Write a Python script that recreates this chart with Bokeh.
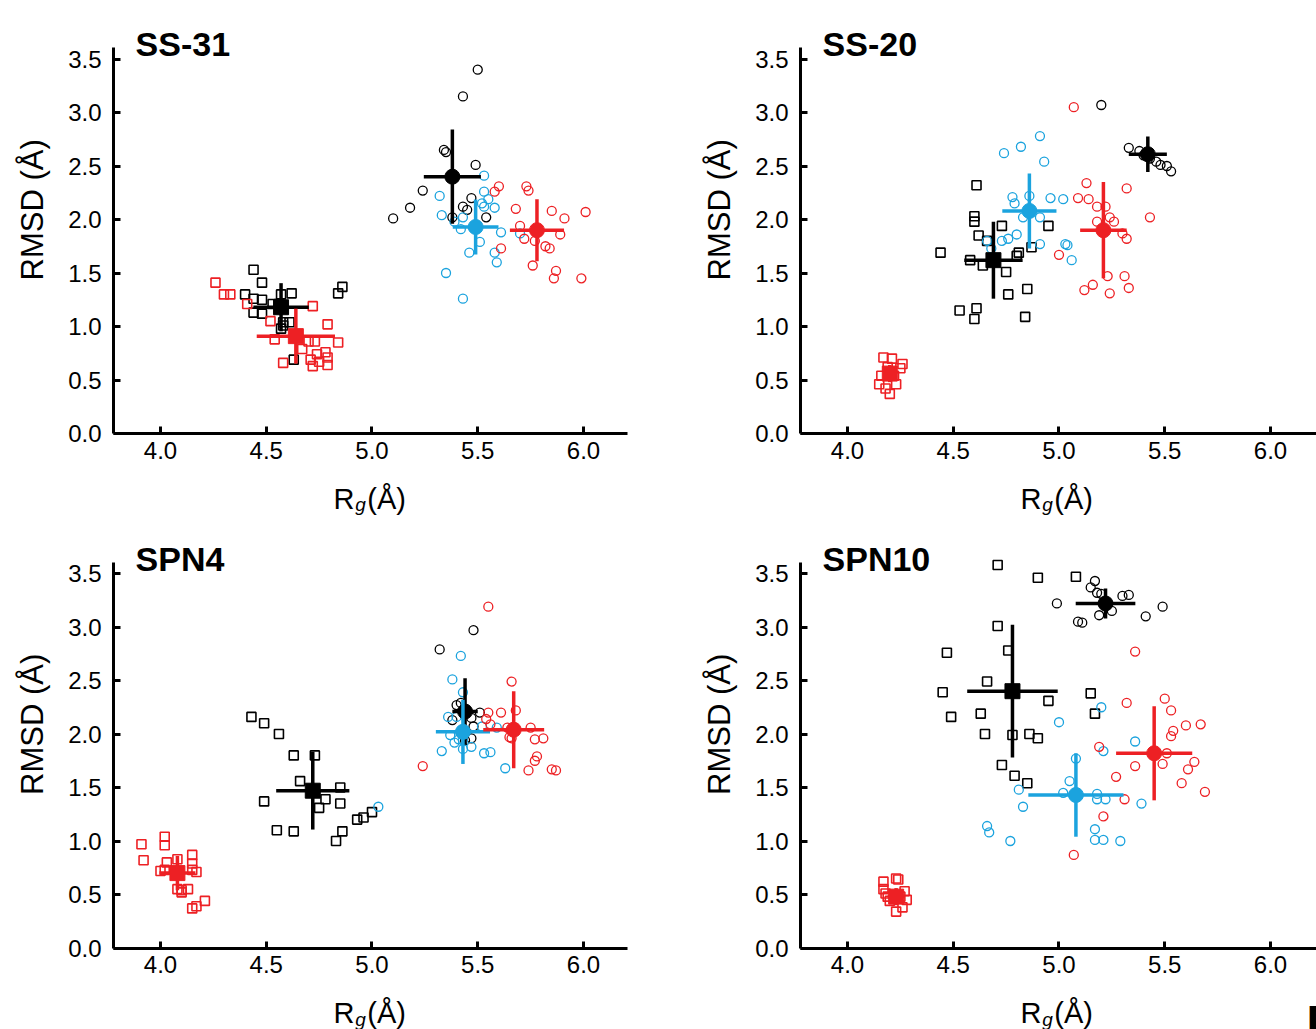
import math
from bokeh.plotting import figure
from bokeh.models import FixedTicker, PrintfTickFormatter, Label
from bokeh.layouts import column, row
from bokeh.embed import file_html
from bokeh.resources import INLINE

BLACK = "#000000"
RED = "#ed2024"
BLUE = "#1ba3de"

X_TICKS = [4.0, 4.5, 5.0, 5.5, 6.0]
Y_TICKS = [0.0, 0.5, 1.0, 1.5, 2.0, 2.5, 3.0, 3.5]
Y_LABEL = "RMSD (Å)"
TITLES = ["SS-31", "SS-20", "SPN4", "SPN10"]

# ---------------- SS-31 ----------------
SS31_BLACK_CIRC_X = [5.50, 5.43, 5.34, 5.35, 5.49, 5.24, 5.18, 5.10, 5.47, 5.43, 5.45, 5.38, 5.54]
SS31_BLACK_CIRC_Y = [3.40, 3.15, 2.65, 2.63, 2.51, 2.27, 2.11, 2.01, 2.20, 2.12, 2.09, 2.02, 2.02]
SS31_BLUE_CIRC_X = [5.53, 5.53, 5.32, 5.52, 5.55, 5.53, 5.58, 5.33, 5.43, 5.39, 5.42, 5.61, 5.51, 5.46, 5.58, 5.59, 5.35, 5.43, 5.70]
SS31_BLUE_CIRC_Y = [2.41, 2.26, 2.22, 2.15, 2.19, 2.12, 2.11, 2.04, 2.02, 1.98, 1.91, 1.88, 1.79, 1.69, 1.69, 1.60, 1.50, 1.26, 1.87]
SS31_RED_CIRC_X = [5.60, 5.58, 5.73, 5.74, 5.68, 5.85, 6.01, 5.91, 5.70, 5.72, 5.77, 5.89, 5.82, 5.84, 5.61, 5.76, 5.87, 5.86, 5.99]
SS31_RED_CIRC_Y = [2.31, 2.26, 2.31, 2.27, 2.10, 2.08, 2.07, 2.01, 1.94, 1.82, 1.80, 1.86, 1.75, 1.73, 1.73, 1.57, 1.52, 1.45, 1.45]
SS31_BLACK_SQ_X = [4.44, 4.48, 4.40, 4.44, 4.48, 4.57, 4.62, 4.44, 4.48, 4.53, 4.58, 4.61, 4.57, 4.58, 4.84, 4.86, 4.63, 4.56]
SS31_BLACK_SQ_Y = [1.53, 1.41, 1.30, 1.26, 1.25, 1.30, 1.31, 1.13, 1.12, 1.21, 1.04, 1.04, 0.98, 1.01, 1.31, 1.37, 0.69, 1.21]
SS31_RED_SQ_X = [4.26, 4.30, 4.33, 4.41, 4.52, 4.72, 4.79, 4.54, 4.70, 4.73, 4.84, 4.67, 4.74, 4.78, 4.71, 4.79, 4.75, 4.72, 4.79, 4.58]
SS31_RED_SQ_Y = [1.41, 1.30, 1.30, 1.21, 1.05, 1.19, 1.02, 0.88, 0.86, 0.86, 0.85, 0.79, 0.74, 0.76, 0.69, 0.71, 0.67, 0.63, 0.64, 0.66]
# mean: x, y, x error, y error
SS31_BLACK_SQ_MEAN = [4.57, 1.18, 0.131, 0.225]
SS31_RED_SQ_MEAN = [4.64, 0.91, 0.185, 0.257]
SS31_BLACK_CIRC_MEAN = [5.38, 2.40, 0.135, 0.44]
SS31_BLUE_CIRC_MEAN = [5.49, 1.93, 0.108, 0.257]
SS31_RED_CIRC_MEAN = [5.78, 1.90, 0.128, 0.29]

# ---------------- SS-20 ----------------
SS20_BLACK_CIRC_X = [5.20, 5.33, 5.38, 5.43, 5.46, 5.48, 5.51, 5.53, 5.40]
SS20_BLACK_CIRC_Y = [3.07, 2.67, 2.64, 2.57, 2.54, 2.51, 2.50, 2.45, 2.60]
SS20_BLUE_CIRC_X = [4.74, 4.82, 4.91, 4.93, 4.78, 4.79, 4.86, 4.96, 5.02, 4.83, 4.91, 4.80, 4.76, 4.73, 4.66, 4.68, 4.91, 5.03, 5.04, 5.06]
SS20_BLUE_CIRC_Y = [2.62, 2.68, 2.78, 2.54, 2.21, 2.15, 2.22, 2.20, 2.19, 2.02, 2.02, 1.86, 1.82, 1.80, 1.80, 1.73, 1.77, 1.77, 1.76, 1.62]
SS20_RED_CIRC_X = [5.07, 5.13, 5.32, 5.09, 5.14, 5.18, 5.22, 5.24, 5.26, 5.18, 5.43, 5.30, 5.32, 5.00, 5.23, 5.31, 5.16, 5.12, 5.24, 5.33]
SS20_RED_CIRC_Y = [3.05, 2.34, 2.29, 2.20, 2.19, 2.12, 2.12, 2.02, 1.98, 1.98, 2.02, 1.87, 1.82, 1.67, 1.47, 1.47, 1.39, 1.34, 1.31, 1.36]
SS20_BLACK_SQ_X = [4.61, 4.60, 4.60, 4.73, 4.95, 4.62, 4.66, 4.44, 4.58, 4.64, 4.81, 4.80, 4.87, 4.75, 4.76, 4.85, 4.53, 4.61, 4.60, 4.84]
SS20_BLACK_SQ_Y = [2.32, 2.03, 1.98, 1.94, 1.94, 1.85, 1.80, 1.69, 1.62, 1.57, 1.69, 1.66, 1.74, 1.51, 1.30, 1.35, 1.15, 1.17, 1.07, 1.09]
SS20_RED_SQ_X = [4.17, 4.21, 4.26, 4.25, 4.15, 4.18, 4.20, 4.23, 4.16, 4.22, 4.19]
SS20_RED_SQ_Y = [0.71, 0.70, 0.65, 0.61, 0.46, 0.42, 0.37, 0.46, 0.54, 0.54, 0.62]
SS20_BLACK_SQ_MEAN = [4.69, 1.62, 0.138, 0.36]
SS20_RED_SQ_MEAN = [4.20, 0.56, 0.03, 0.08]
SS20_BLACK_CIRC_MEAN = [5.42, 2.61, 0.09, 0.165]
SS20_BLUE_CIRC_MEAN = [4.86, 2.08, 0.128, 0.35]
SS20_RED_CIRC_MEAN = [5.21, 1.90, 0.11, 0.45]

# ---------------- SPN4 ----------------
SPN4_BLACK_CIRC_X = [5.48, 5.32, 5.42, 5.51, 5.38, 5.47, 5.48, 5.47, 5.44, 5.40]
SPN4_BLACK_CIRC_Y = [2.97, 2.79, 2.29, 2.20, 2.13, 2.15, 2.07, 1.96, 1.94, 2.27]
SPN4_BLUE_CIRC_X = [5.03, 5.42, 5.38, 5.43, 5.36, 5.40, 5.52, 5.59, 5.37, 5.39, 5.41, 5.43, 5.47, 5.33, 5.53, 5.56, 5.63, 5.43]
SPN4_BLUE_CIRC_Y = [1.32, 2.73, 2.51, 2.39, 2.16, 2.16, 2.07, 2.06, 1.99, 1.92, 1.95, 1.86, 1.88, 1.84, 1.82, 1.83, 1.68, 1.94]
SPN4_RED_CIRC_X = [5.55, 5.66, 5.68, 5.55, 5.54, 5.61, 5.56, 5.64, 5.65, 5.66, 5.75, 5.77, 5.81, 5.78, 5.77, 5.74, 5.85, 5.87, 5.24]
SPN4_RED_CIRC_Y = [3.19, 2.49, 2.22, 2.20, 2.14, 2.20, 2.09, 2.06, 1.97, 1.96, 2.06, 1.95, 1.96, 1.79, 1.75, 1.66, 1.67, 1.66, 1.70]
SPN4_BLACK_SQ_X = [4.43, 4.49, 4.56, 4.63, 4.73, 4.66, 4.85, 4.78, 4.75, 4.85, 4.49, 4.55, 4.63, 4.86, 4.83, 4.93, 4.96, 5.00]
SPN4_BLACK_SQ_Y = [2.16, 2.10, 2.00, 1.80, 1.80, 1.56, 1.50, 1.39, 1.31, 1.35, 1.37, 1.10, 1.09, 1.09, 1.00, 1.20, 1.22, 1.27]
SPN4_RED_SQ_X = [3.91, 3.92, 4.02, 4.02, 4.03, 4.00, 4.02, 4.08, 4.15, 4.15, 4.15, 4.17, 4.08, 4.10, 4.13, 4.10, 4.21, 4.17, 4.15]
SPN4_RED_SQ_Y = [0.97, 0.82, 1.04, 0.96, 0.80, 0.72, 0.73, 0.83, 0.87, 0.79, 0.73, 0.71, 0.55, 0.54, 0.55, 0.52, 0.44, 0.39, 0.37]
SPN4_BLACK_SQ_MEAN = [4.72, 1.47, 0.173, 0.363]
SPN4_RED_SQ_MEAN = [4.08, 0.70, 0.085, 0.16]
SPN4_BLACK_CIRC_MEAN = [5.44, 2.21, 0.06, 0.31]
SPN4_BLUE_CIRC_MEAN = [5.43, 2.02, 0.128, 0.30]
SPN4_RED_CIRC_MEAN = [5.67, 2.04, 0.144, 0.36]

# ---------------- SPN10 ----------------
SPN10_BLACK_CIRC_X = [5.17, 5.15, 5.18, 5.20, 4.99, 5.30, 5.33, 5.25, 5.19, 5.09, 5.11, 5.41, 5.49, 5.22]
SPN10_BLACK_CIRC_Y = [3.43, 3.37, 3.32, 3.31, 3.22, 3.29, 3.30, 3.15, 3.11, 3.05, 3.04, 3.10, 3.19, 3.23]
SPN10_BLUE_CIRC_X = [5.20, 5.00, 5.36, 5.21, 5.08, 5.05, 4.81, 5.02, 5.18, 5.18, 5.22, 5.39, 4.83, 4.66, 4.67, 4.77, 5.17, 5.17, 5.21, 5.29]
SPN10_BLUE_CIRC_Y = [2.25, 2.11, 1.93, 1.84, 1.77, 1.56, 1.48, 1.45, 1.44, 1.39, 1.39, 1.35, 1.32, 1.14, 1.08, 1.00, 1.11, 1.01, 1.01, 1.00]
SPN10_RED_CIRC_X = [5.36, 5.32, 5.50, 5.53, 5.60, 5.67, 5.54, 5.53, 5.19, 5.51, 5.49, 5.36, 5.64, 5.61, 5.27, 5.58, 5.69, 5.31, 5.21, 5.07]
SPN10_RED_CIRC_Y = [2.77, 2.29, 2.33, 2.22, 2.08, 2.09, 2.03, 1.98, 1.88, 1.82, 1.72, 1.70, 1.74, 1.67, 1.60, 1.54, 1.46, 1.39, 1.23, 0.87]
SPN10_BLACK_SQ_X = [4.71, 4.90, 5.08, 4.71, 4.47, 4.76, 4.66, 4.45, 4.95, 5.15, 4.49, 4.63, 5.17, 4.65, 4.78, 4.86, 4.90, 4.73, 4.79, 4.85]
SPN10_BLACK_SQ_Y = [3.58, 3.46, 3.47, 3.01, 2.76, 2.78, 2.49, 2.39, 2.31, 2.38, 2.16, 2.19, 2.19, 2.00, 1.99, 2.00, 1.96, 1.71, 1.61, 1.54]
SPN10_RED_SQ_X = [4.17, 4.23, 4.24, 4.18, 4.27, 4.20, 4.26, 4.23, 4.28, 4.17, 4.25, 4.19]
SPN10_RED_SQ_Y = [0.62, 0.65, 0.64, 0.51, 0.53, 0.44, 0.38, 0.34, 0.45, 0.55, 0.48, 0.48]
SPN10_BLACK_SQ_MEAN = [4.78, 2.40, 0.214, 0.62]
SPN10_RED_SQ_MEAN = [4.23, 0.48, 0.04, 0.08]
SPN10_BLACK_CIRC_MEAN = [5.22, 3.22, 0.141, 0.14]
SPN10_BLUE_CIRC_MEAN = [5.08, 1.43, 0.225, 0.39]
SPN10_RED_CIRC_MEAN = [5.45, 1.82, 0.18, 0.44]

FONT = "Liberation Sans"
X_AXIS_AT = 3.7778      # where the y axis crosses (data x)
X_PX = 211.5            # pixels per x unit
Y_PX = 107.0            # pixels per y unit
AXIS_X_END = 6.208
AXIS_Y_END = 3.607


def build(title, pts, means, fig_w, fig_h, axis_from_left, zero_from_top,
          x_axis_end=None, extra_f=False):
    x0 = X_AXIS_AT - axis_from_left / X_PX
    x1 = x0 + fig_w / X_PX
    y1 = zero_from_top / Y_PX
    y0 = y1 - fig_h / Y_PX
    if x_axis_end is None:
        x_axis_end = x1
    p = figure(frame_width=fig_w, frame_height=fig_h,
               x_range=(x0, x1), y_range=(y0, y1),
               output_backend="svg", toolbar_location=None,
               min_border_left=0, min_border_right=0,
               min_border_top=0, min_border_bottom=0)
    p.outline_line_color = None
    p.background_fill_color = "white"
    p.border_fill_color = "white"
    p.xgrid.visible = False
    p.ygrid.visible = False
    for ax in (p.xaxis[0], p.yaxis[0]):
        ax.axis_line_width = 3
        ax.axis_line_color = BLACK
        ax.major_tick_line_width = 3
        ax.major_tick_line_color = BLACK
        ax.major_tick_in = 7
        ax.major_tick_out = 0
        ax.minor_tick_line_color = None
        ax.major_label_text_font = FONT
        ax.major_label_text_font_size = "24px"
        ax.major_label_text_color = BLACK
        ax.formatter = PrintfTickFormatter(format="%.1f")
    p.xaxis.ticker = FixedTicker(ticks=X_TICKS)
    p.yaxis.ticker = FixedTicker(ticks=Y_TICKS)
    p.xaxis.fixed_location = 0.0
    p.xaxis.bounds = (X_AXIS_AT, x_axis_end)
    p.yaxis.fixed_location = X_AXIS_AT
    p.yaxis.bounds = (0.0, AXIS_Y_END)
    p.xaxis.major_label_standoff = 8
    p.yaxis.major_label_standoff = 12

    # open points
    for xs, ys, marker, color, size, lw in pts:
        p.scatter(xs, ys, marker=marker, size=size, fill_color=None,
                  line_color=color, line_width=lw)
    # means with error bars
    for m, marker, color in means:
        x, y, xe, ye = m
        p.segment(x0=[x - xe], y0=[y], x1=[x + xe], y1=[y], line_color=color, line_width=3.5)
        p.segment(x0=[x], y0=[y - ye], x1=[x], y1=[y + ye], line_color=color, line_width=3.5)
        p.scatter([x], [y], marker=marker, size=15, fill_color=color, line_color=color)

    # y axis label
    p.add_layout(Label(x=3.3925, y=2.09, text=Y_LABEL, text_font=FONT, text_font_size="31px",
                       text_color=BLACK, angle=math.pi / 2,
                       text_align="center", text_baseline="middle"))
    # panel title
    p.add_layout(Label(x=3.882, y=3.64, text=title, text_font=FONT, text_font_size="34px",
                       text_font_style="bold", text_color=BLACK,
                       text_align="left", text_baseline="alphabetic"))
    # x axis label  R_g (Å)
    p.add_layout(Label(x=4.818, y=-0.612, text="R", text_font=FONT, text_font_size="29px",
                       text_color=BLACK, text_align="left", text_baseline="alphabetic"))
    p.add_layout(Label(x=4.921, y=-0.665, text="g", text_font=FONT, text_font_size="19px",
                       text_font_style="italic", text_color=BLACK,
                       text_align="left", text_baseline="alphabetic"))
    p.add_layout(Label(x=4.978, y=-0.612, text="(Å)", text_font=FONT, text_font_size="29px",
                       text_color=BLACK, text_align="left", text_baseline="alphabetic"))
    if extra_f:
        p.add_layout(Label(x=6.170, y=-0.69, text="F", text_font=FONT, text_font_size="47px",
                           text_font_style="bold", text_color=BLACK,
                           text_align="left", text_baseline="alphabetic"))
    return p


def series(bcx, bcy, ucx, ucy, rcx, rcy, bsx, bsy, rsx, rsy):
    return [
        (bsx, bsy, "square", BLACK, 9, 1.6),
        (rsx, rsy, "square", RED, 9, 1.6),
        (bcx, bcy, "circle", BLACK, 9, 1.3),
        (ucx, ucy, "circle", BLUE, 9, 1.3),
        (rcx, rcy, "circle", RED, 9, 1.3),
    ]


def mean_list(bs, rs, bc, uc, rc):
    return [(bs, "square", BLACK), (rs, "square", RED),
            (bc, "circle", BLACK), (uc, "circle", BLUE), (rc, "circle", RED)]


p1 = build(TITLES[0],
           series(SS31_BLACK_CIRC_X, SS31_BLACK_CIRC_Y, SS31_BLUE_CIRC_X, SS31_BLUE_CIRC_Y,
                  SS31_RED_CIRC_X, SS31_RED_CIRC_Y, SS31_BLACK_SQ_X, SS31_BLACK_SQ_Y,
                  SS31_RED_SQ_X, SS31_RED_SQ_Y),
           mean_list(SS31_BLACK_SQ_MEAN, SS31_RED_SQ_MEAN, SS31_BLACK_CIRC_MEAN,
                     SS31_BLUE_CIRC_MEAN, SS31_RED_CIRC_MEAN),
           695, 522, 113, 433.0, AXIS_X_END)
p2 = build(TITLES[1],
           series(SS20_BLACK_CIRC_X, SS20_BLACK_CIRC_Y, SS20_BLUE_CIRC_X, SS20_BLUE_CIRC_Y,
                  SS20_RED_CIRC_X, SS20_RED_CIRC_Y, SS20_BLACK_SQ_X, SS20_BLACK_SQ_Y,
                  SS20_RED_SQ_X, SS20_RED_SQ_Y),
           mean_list(SS20_BLACK_SQ_MEAN, SS20_RED_SQ_MEAN, SS20_BLACK_CIRC_MEAN,
                     SS20_BLUE_CIRC_MEAN, SS20_RED_CIRC_MEAN),
           621, 522, 105, 433.0)
p3 = build(TITLES[2],
           series(SPN4_BLACK_CIRC_X, SPN4_BLACK_CIRC_Y, SPN4_BLUE_CIRC_X, SPN4_BLUE_CIRC_Y,
                  SPN4_RED_CIRC_X, SPN4_RED_CIRC_Y, SPN4_BLACK_SQ_X, SPN4_BLACK_SQ_Y,
                  SPN4_RED_SQ_X, SPN4_RED_SQ_Y),
           mean_list(SPN4_BLACK_SQ_MEAN, SPN4_RED_SQ_MEAN, SPN4_BLACK_CIRC_MEAN,
                     SPN4_BLUE_CIRC_MEAN, SPN4_RED_CIRC_MEAN),
           695, 507, 113, 425.5, AXIS_X_END)
p4 = build(TITLES[3],
           series(SPN10_BLACK_CIRC_X, SPN10_BLACK_CIRC_Y, SPN10_BLUE_CIRC_X, SPN10_BLUE_CIRC_Y,
                  SPN10_RED_CIRC_X, SPN10_RED_CIRC_Y, SPN10_BLACK_SQ_X, SPN10_BLACK_SQ_Y,
                  SPN10_RED_SQ_X, SPN10_RED_SQ_Y),
           mean_list(SPN10_BLACK_SQ_MEAN, SPN10_RED_SQ_MEAN, SPN10_BLACK_CIRC_MEAN,
                     SPN10_BLUE_CIRC_MEAN, SPN10_RED_CIRC_MEAN),
           621, 507, 105, 425.5, extra_f=True)

layout = column(row(p1, p2), row(p3, p4))
open("out.html", "w").write(file_html(layout, INLINE))
